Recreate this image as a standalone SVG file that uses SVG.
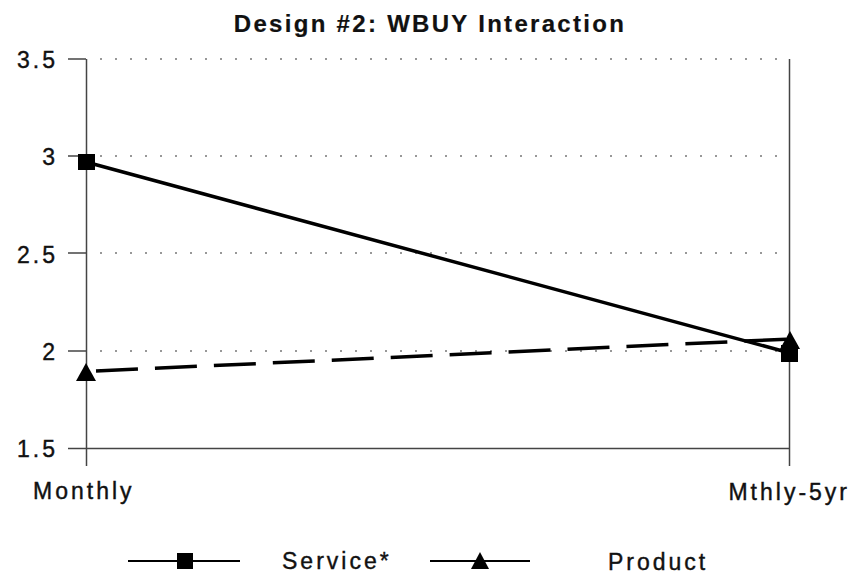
<svg xmlns="http://www.w3.org/2000/svg" width="858" height="574" viewBox="0 0 858 574">
<style>
text{font-family:"Liberation Sans",Arial,sans-serif;fill:#111;stroke:#111;stroke-width:0.4}
.t{font-size:24px;font-weight:bold;letter-spacing:2.3px;stroke-width:0.2}
.lab{font-size:23px;letter-spacing:3px}
.grid{stroke:#777;stroke-width:1.5;stroke-dasharray:2 13}
.ax{stroke:#444;stroke-width:1.5;fill:none}
.svc{stroke:#000;stroke-width:3.5;fill:none}
.prd{stroke:#000;stroke-width:3.5;fill:none;stroke-dasharray:42 17}
</style>
<rect width="858" height="574" fill="#fff"/>
<text class="t" x="430" y="32" text-anchor="middle">Design #2: WBUY Interaction</text>
<g id="grid">
<line class="grid" x1="100" y1="59" x2="790" y2="59"/>
<line class="grid" x1="100" y1="156" x2="790" y2="156"/>
<line class="grid" x1="100" y1="253" x2="790" y2="253"/>
<line class="grid" x1="100" y1="351" x2="790" y2="351"/>
</g>
<g id="axes">
<line class="ax" x1="86.5" y1="59" x2="86.5" y2="466"/>
<line class="ax" x1="789.5" y1="59" x2="789.5" y2="466"/>
<line class="ax" x1="86" y1="448.5" x2="790" y2="448.5"/>
<line class="ax" x1="68" y1="59" x2="86" y2="59"/>
<line class="ax" x1="68" y1="156" x2="86" y2="156"/>
<line class="ax" x1="68" y1="253" x2="86" y2="253"/>
<line class="ax" x1="68" y1="351" x2="86" y2="351"/>
<line class="ax" x1="68" y1="448.5" x2="86" y2="448.5"/>
</g>
<g id="ylabels">
<text class="lab" x="58" y="68" text-anchor="end">3.5</text>
<text class="lab" x="58" y="165" text-anchor="end">3</text>
<text class="lab" x="58" y="263" text-anchor="end">2.5</text>
<text class="lab" x="58" y="360" text-anchor="end">2</text>
<text class="lab" x="58" y="457" text-anchor="end">1.5</text>
</g>
<g id="xlabels">
<text class="lab" x="33" y="499">Monthly</text>
<text class="lab" x="850" y="500" text-anchor="end">Mthly-5yr</text>
</g>
<g id="connectors">
<polyline id="service-line" class="svc" points="86,162 790,353"/>
<polyline id="product-line" class="prd" points="96,371 790,339"/>
</g>
<g id="service-monthly"><rect x="78" y="154" width="17" height="16" fill="#000"/></g>
<g id="service-5yr"><rect x="781" y="345" width="17" height="17" fill="#000"/></g>
<g id="product-monthly"><polygon points="86,363 76,381 96,381" fill="#000"/></g>
<g id="product-5yr"><polygon points="790,331 780,349 800,349" fill="#000"/></g>
<g id="legend">
<line x1="128" y1="561" x2="240" y2="561" stroke="#000" stroke-width="2"/>
<rect x="177" y="553" width="16" height="16" fill="#000"/>
<text class="lab" x="282" y="569">Service*</text>
<line x1="430" y1="561" x2="530" y2="561" stroke="#000" stroke-width="2"/>
<polygon points="480,552 471,569 489,569" fill="#000"/>
<text class="lab" x="608" y="570">Product</text>
</g>
</svg>
